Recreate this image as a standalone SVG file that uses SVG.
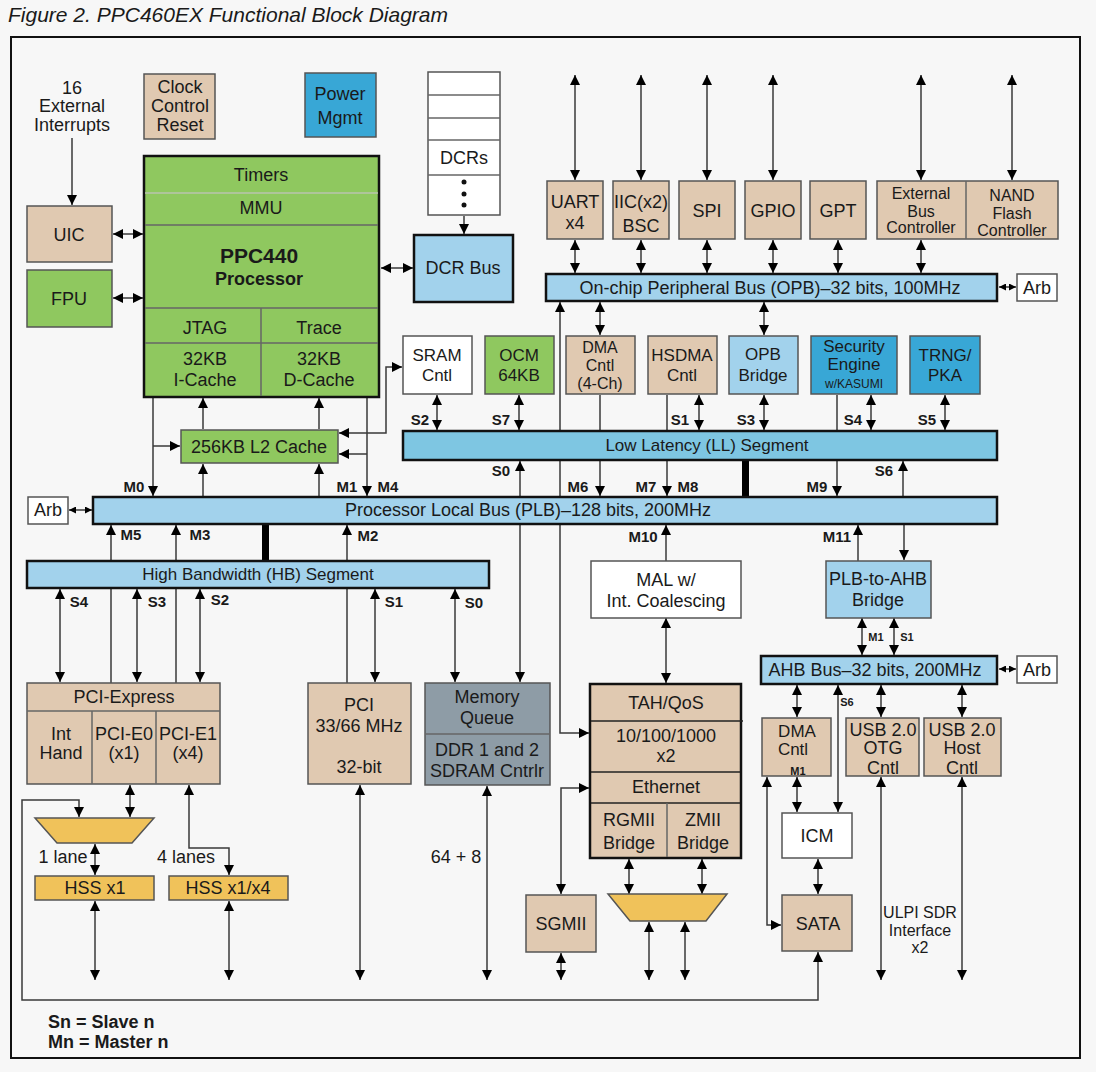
<svg xmlns="http://www.w3.org/2000/svg" width="1096" height="1072" viewBox="0 0 1096 1072">
<style>
text{font-family:"Liberation Sans",Arial,sans-serif;fill:#1a1a1a;text-anchor:middle;font-size:18px}
.l{text-anchor:start}
.b{font-weight:bold;font-size:15px}
.sm{font-weight:bold;font-size:11px}
.m{font-size:17px}
.bt{font-size:18px}
.bx{stroke:#555;stroke-width:1.5}
.tan{fill:#e0c9b1}
.grn{fill:#8fc85f}
.lb{fill:#a2d2ec}
.ll{fill:#7ec6e2}
.db{fill:#38a7d6}
.wh{fill:#fff}
.gold{fill:#f0c25a}
.gry{fill:#8e9ca6}
.bus{stroke:#111;stroke-width:2.5}
.dv{stroke:#666;stroke-width:1.5;fill:none}
.c{stroke:#3a3a3a;stroke-width:1.5;fill:none}
.e{marker-end:url(#a)}
.d{marker-start:url(#a);marker-end:url(#a)}
.ds{marker-start:url(#s);marker-end:url(#s)}
</style>
<defs>
<marker id="a" viewBox="0 0 10 10" refX="10" refY="5" markerWidth="10" markerHeight="10" orient="auto-start-reverse" markerUnits="userSpaceOnUse"><path d="M0,0 L10,5 L0,10 Z" fill="#000"/></marker>
<marker id="s" viewBox="0 0 10 10" refX="10" refY="5" markerWidth="7" markerHeight="7" orient="auto-start-reverse" markerUnits="userSpaceOnUse"><path d="M0,0 L10,5 L0,10 Z" fill="#000"/></marker>
</defs>
<rect x="0" y="0" width="1096" height="1072" fill="#f7f7f7"/>
<text x="8" y="22" class="l" style="font-style:italic;font-size:21px">Figure 2. PPC460EX Functional Block Diagram</text>
<rect x="11" y="37" width="1069" height="1021" fill="none" stroke="#111" stroke-width="2"/>

<g id="connectors">
<line class="c e" x1="72" y1="138" x2="72" y2="205"/>
<line class="c d" x1="113" y1="234" x2="143" y2="234"/>
<line class="c d" x1="113" y1="298" x2="143" y2="298"/>
<line class="c d" x1="381" y1="268" x2="413" y2="268"/>
<line class="c e" x1="464" y1="216" x2="464" y2="234"/>
<line class="c d" x1="575" y1="75" x2="575" y2="180"/>
<line class="c d" x1="641" y1="75" x2="641" y2="180"/>
<line class="c d" x1="707" y1="75" x2="707" y2="180"/>
<line class="c d" x1="773" y1="75" x2="773" y2="180"/>
<line class="c d" x1="921" y1="75" x2="921" y2="180"/>
<line class="c d" x1="1012" y1="75" x2="1012" y2="180"/>
<line class="c d" x1="575" y1="240" x2="575" y2="273"/>
<line class="c d" x1="641" y1="240" x2="641" y2="273"/>
<line class="c d" x1="707" y1="240" x2="707" y2="273"/>
<line class="c d" x1="773" y1="240" x2="773" y2="273"/>
<line class="c d" x1="838" y1="240" x2="838" y2="273"/>
<line class="c d" x1="921" y1="240" x2="921" y2="273"/>
<line class="c ds" x1="999" y1="287" x2="1016" y2="287"/>
<line class="c d" x1="600" y1="302" x2="600" y2="335"/>
<line class="c d" x1="764" y1="302" x2="764" y2="335"/>
<path class="c d" d="M560,302 V733 H589"/>
<line class="c d" x1="437" y1="395" x2="437" y2="430"/>
<line class="c d" x1="519" y1="395" x2="519" y2="430"/>
<line class="c d" x1="699" y1="395" x2="699" y2="430"/>
<line class="c d" x1="764" y1="395" x2="764" y2="430"/>
<line class="c d" x1="871" y1="395" x2="871" y2="430"/>
<line class="c d" x1="945" y1="395" x2="945" y2="430"/>
<line class="c e" x1="600" y1="395" x2="600" y2="496"/>
<line class="c e" x1="667" y1="395" x2="667" y2="496"/>
<line class="c e" x1="837" y1="395" x2="837" y2="496"/>
<line class="c e" x1="903" y1="497" x2="903" y2="461"/>
<line class="c d" x1="520" y1="682" x2="520" y2="461"/>
<line class="c e" x1="153" y1="398" x2="153" y2="496"/>
<line class="c e" x1="153" y1="446" x2="180" y2="446"/>
<line class="c e" x1="203" y1="429" x2="203" y2="398"/>
<line class="c e" x1="319" y1="429" x2="319" y2="398"/>
<line class="c e" x1="203" y1="497" x2="203" y2="464"/>
<line class="c e" x1="319" y1="497" x2="319" y2="464"/>
<line class="c e" x1="367" y1="398" x2="367" y2="496"/>
<line class="c e" x1="367" y1="454" x2="339" y2="454"/>
<path class="c d" d="M339,433 H386 V367 H402"/>
<line class="c ds" x1="69" y1="510" x2="92" y2="510"/>
<line class="c e" x1="111" y1="683" x2="111" y2="525"/>
<line class="c e" x1="176" y1="683" x2="176" y2="525"/>
<line class="c e" x1="347" y1="683" x2="347" y2="525"/>
<line class="c d" x1="60" y1="589" x2="60" y2="682"/>
<line class="c d" x1="137" y1="589" x2="137" y2="682"/>
<line class="c d" x1="200" y1="589" x2="200" y2="682"/>
<line class="c d" x1="375" y1="589" x2="375" y2="682"/>
<line class="c d" x1="455" y1="589" x2="455" y2="682"/>
<line class="c e" x1="666" y1="561" x2="666" y2="525"/>
<line class="c d" x1="666" y1="618" x2="666" y2="683"/>
<line class="c e" x1="858" y1="561" x2="858" y2="525"/>
<line class="c e" x1="904" y1="525" x2="904" y2="560"/>
<line class="c d" x1="862" y1="618" x2="862" y2="655"/>
<line class="c d" x1="894" y1="618" x2="894" y2="655"/>
<line class="c ds" x1="999" y1="669" x2="1016" y2="669"/>
<line class="c d" x1="797" y1="685" x2="797" y2="717"/>
<line class="c d" x1="838" y1="685" x2="838" y2="812"/>
<line class="c d" x1="881" y1="685" x2="881" y2="717"/>
<line class="c d" x1="962" y1="685" x2="962" y2="717"/>
<line class="c d" x1="797" y1="777" x2="797" y2="812"/>
<line class="c d" x1="818" y1="859" x2="818" y2="894"/>
<path class="c d" d="M767,777 V925 H781"/>
<line class="c d" x1="881" y1="777" x2="881" y2="980"/>
<line class="c d" x1="962" y1="777" x2="962" y2="980"/>
<path class="c d" d="M818,952 V1000 H22 V800 H79 V817"/>
<line class="c d" x1="130" y1="785" x2="130" y2="817"/>
<line class="c d" x1="95" y1="844" x2="95" y2="875"/>
<path class="c d" d="M189,785 V848 H229 V875"/>
<line class="c d" x1="95" y1="901" x2="95" y2="980"/>
<line class="c d" x1="229" y1="901" x2="229" y2="980"/>
<line class="c d" x1="360" y1="785" x2="360" y2="980"/>
<line class="c d" x1="487" y1="786" x2="487" y2="980"/>
<path class="c d" d="M589,788 H561 V894"/>
<line class="c d" x1="561" y1="953" x2="561" y2="980"/>
<line class="c d" x1="629" y1="859" x2="629" y2="894"/>
<line class="c d" x1="702" y1="859" x2="702" y2="894"/>
<line class="c d" x1="649" y1="922" x2="649" y2="980"/>
<line class="c d" x1="685" y1="922" x2="685" y2="980"/>
<rect x="262" y="524" width="7" height="37" fill="#000"/>
<rect x="742" y="460" width="7" height="38" fill="#000"/>
</g>

<g id="labels">
<text class="b" x="134" y="492">M0</text>
<text class="b" x="347" y="492">M1</text>
<text class="b" x="388" y="492">M4</text>
<text class="b" x="420" y="425">S2</text>
<text class="b" x="501" y="425">S7</text>
<text class="b" x="680" y="425">S1</text>
<text class="b" x="746" y="425">S3</text>
<text class="b" x="853" y="425">S4</text>
<text class="b" x="927" y="425">S5</text>
<text class="b" x="501" y="476">S0</text>
<text class="b" x="884" y="476">S6</text>
<text class="b" x="578" y="492">M6</text>
<text class="b" x="646" y="492">M7</text>
<text class="b" x="688" y="492">M8</text>
<text class="b" x="817" y="492">M9</text>
<text class="b" x="131" y="540">M5</text>
<text class="b" x="200" y="540">M3</text>
<text class="b" x="368" y="541">M2</text>
<text class="b" x="643" y="542">M10</text>
<text class="b" x="837" y="542">M11</text>
<text class="b" x="79" y="607">S4</text>
<text class="b" x="157" y="607">S3</text>
<text class="b" x="220" y="605">S2</text>
<text class="b" x="394" y="607">S1</text>
<text class="b" x="474" y="608">S0</text>
<text class="sm" x="876" y="641">M1</text>
<text class="sm" x="907" y="641">S1</text>
<text class="sm" x="847" y="706">S6</text>
<text x="72" y="94">16</text>
<text x="72" y="112">External</text>
<text x="72" y="131">Interrupts</text>
<text x="63" y="863">1 lane</text>
<text x="186" y="863">4 lanes</text>
<text x="456" y="863">64 + 8</text>
<text x="920" y="918" style="font-size:16px">ULPI SDR</text>
<text x="920" y="936" style="font-size:16px">Interface</text>
<text x="920" y="953" style="font-size:16px">x2</text>
<text class="l" x="48" y="1028" style="font-weight:bold;font-size:18px">Sn = Slave n</text>
<text class="l" x="48" y="1048" style="font-weight:bold;font-size:18px">Mn = Master n</text>
</g>

<g id="clock"><rect class="bx tan" x="144" y="74" width="71" height="65"/><text x="180" y="93">Clock</text><text x="180" y="112">Control</text><text x="180" y="131">Reset</text></g>
<g id="power"><rect class="bx db" x="305" y="73" width="71" height="64"/><text x="340" y="100">Power</text><text x="340" y="124">Mgmt</text></g>
<g id="uic"><rect class="bx tan" x="27" y="206" width="85" height="56"/><text x="69" y="241">UIC</text></g>
<g id="fpu"><rect class="bx grn" x="27" y="270" width="85" height="57"/><text x="69" y="305">FPU</text></g>
<g id="ppc440">
<rect class="grn" x="144" y="156" width="235" height="241" stroke="#111" stroke-width="2.5"/>
<line x1="145" y1="193" x2="378" y2="193" stroke="#b8c4ae" stroke-width="1.5"/>
<line class="dv" x1="145" y1="225" x2="378" y2="225"/>
<line class="dv" x1="145" y1="308" x2="378" y2="308"/>
<line class="dv" x1="145" y1="343" x2="378" y2="343"/>
<line class="dv" x1="261" y1="308" x2="261" y2="396"/>
<text x="261" y="181">Timers</text>
<text x="261" y="214">MMU</text>
<text x="259" y="263" style="font-weight:bold;font-size:21px">PPC440</text>
<text x="259" y="285" style="font-weight:bold">Processor</text>
<text x="205" y="334">JTAG</text>
<text x="319" y="334">Trace</text>
<text x="205" y="365">32KB</text>
<text x="205" y="386">I-Cache</text>
<text x="319" y="365">32KB</text>
<text x="319" y="386">D-Cache</text>
</g>
<g id="dcrs">
<rect x="428" y="72" width="72" height="143" fill="#fff" stroke="#555" stroke-width="1.5"/>
<line class="dv" x1="428" y1="95" x2="500" y2="95"/>
<line class="dv" x1="428" y1="118" x2="500" y2="118"/>
<line class="dv" x1="428" y1="140" x2="500" y2="140"/>
<line class="dv" x1="428" y1="175" x2="500" y2="175"/>
<text x="464" y="164">DCRs</text>
<circle cx="464" cy="182" r="2.5" fill="#111"/><circle cx="464" cy="194" r="2.5" fill="#111"/><circle cx="464" cy="205" r="2.5" fill="#111"/>
</g>
<g id="dcrbus"><rect class="lb" x="414" y="235" width="99" height="67" stroke="#111" stroke-width="2.5"/><text x="463" y="274">DCR Bus</text></g>
<g id="uart"><rect class="bx tan" x="547" y="181" width="56" height="58"/><text x="575" y="208">UART</text><text x="575" y="229">x4</text></g>
<g id="iic"><rect class="bx tan" x="613" y="181" width="56" height="58"/><text x="641" y="208">IIC(x2)</text><text x="641" y="232">BSC</text></g>
<g id="spi"><rect class="bx tan" x="679" y="181" width="56" height="58"/><text x="707" y="217">SPI</text></g>
<g id="gpio"><rect class="bx tan" x="745" y="181" width="56" height="58"/><text x="773" y="217">GPIO</text></g>
<g id="gpt"><rect class="bx tan" x="810" y="181" width="56" height="58"/><text x="838" y="217">GPT</text></g>
<g id="ebc">
<rect class="bx tan" x="877" y="181" width="181" height="58"/>
<line class="dv" x1="966" y1="181" x2="966" y2="239"/>
<text x="921" y="199" style="font-size:16px">External</text><text x="921" y="217" style="font-size:16px">Bus</text><text x="921" y="233" style="font-size:16px">Controller</text>
<text x="1012" y="201" style="font-size:16px">NAND</text><text x="1012" y="219" style="font-size:16px">Flash</text><text x="1012" y="236" style="font-size:16px">Controller</text>
</g>
<g id="opb"><rect class="lb bus" x="546" y="274" width="451" height="27"/><text class="bt" x="770" y="294">On-chip Peripheral Bus (OPB)–32 bits, 100MHz</text></g>
<g id="opbarb"><rect class="bx wh" x="1017" y="274" width="40" height="27"/><text x="1037" y="294">Arb</text></g>
<g id="sram"><rect class="bx wh" x="403" y="336" width="69" height="58"/><text class="m" x="437" y="361">SRAM</text><text class="m" x="437" y="381">Cntl</text></g>
<g id="ocm"><rect class="bx grn" x="485" y="336" width="69" height="58"/><text class="m" x="519" y="361">OCM</text><text class="m" x="519" y="381">64KB</text></g>
<g id="dma"><rect class="bx tan" x="566" y="336" width="69" height="58"/><text x="600" y="353" style="font-size:16px">DMA</text><text x="600" y="371" style="font-size:16px">Cntl</text><text x="600" y="389" style="font-size:16px">(4-Ch)</text></g>
<g id="hsdma"><rect class="bx tan" x="648" y="336" width="69" height="58"/><text class="m" x="682" y="361">HSDMA</text><text class="m" x="682" y="381">Cntl</text></g>
<g id="opbbridge"><rect class="bx lb" x="729" y="336" width="69" height="58"/><text class="m" x="763" y="360">OPB</text><text class="m" x="763" y="381">Bridge</text></g>
<g id="security"><rect class="bx db" x="811" y="336" width="86" height="58"/><text class="m" x="854" y="352">Security</text><text class="m" x="854" y="370">Engine</text><text x="854" y="388" style="font-size:12px">w/KASUMI</text></g>
<g id="trng"><rect class="bx db" x="910" y="336" width="70" height="58"/><text class="m" x="945" y="361">TRNG/</text><text class="m" x="945" y="381">PKA</text></g>
<g id="ll"><rect class="ll bus" x="403" y="431" width="594" height="29"/><text class="m" x="707" y="451">Low Latency (LL) Segment</text></g>
<g id="l2"><rect class="bx grn" x="181" y="430" width="157" height="33"/><text x="259" y="453">256KB L2 Cache</text></g>
<g id="plb"><rect class="lb bus" x="93" y="497" width="904" height="27"/><text class="bt" x="528" y="516">Processor Local Bus (PLB)–128 bits, 200MHz</text></g>
<g id="plbarb"><rect class="bx wh" x="28" y="497" width="40" height="27"/><text x="48" y="516">Arb</text></g>
<g id="hb"><rect class="lb bus" x="27" y="561" width="462" height="27"/><text class="m" x="258" y="580">High Bandwidth (HB) Segment</text></g>
<g id="mal"><rect class="bx wh" x="591" y="561" width="150" height="57"/><text x="666" y="586">MAL w/</text><text x="666" y="607">Int. Coalescing</text></g>
<g id="plb2ahb"><rect class="bx lb" x="826" y="561" width="105" height="57"/><text x="878" y="585">PLB-to-AHB</text><text x="878" y="606">Bridge</text></g>
<g id="ahb"><rect class="lb bus" x="761" y="656" width="236" height="28"/><text x="875" y="676">AHB Bus–32 bits, 200MHz</text></g>
<g id="ahbarb"><rect class="bx wh" x="1017" y="656" width="40" height="27"/><text x="1037" y="676">Arb</text></g>
<g id="pcie">
<rect class="bx tan" x="27" y="683" width="193" height="101"/>
<line class="dv" x1="27" y1="711" x2="220" y2="711"/>
<line class="dv" x1="92" y1="711" x2="92" y2="784"/>
<line class="dv" x1="156" y1="711" x2="156" y2="784"/>
<text x="124" y="703">PCI-Express</text>
<text x="61" y="740">Int</text><text x="61" y="759">Hand</text>
<text x="124" y="740">PCI-E0</text><text x="124" y="759">(x1)</text>
<text x="188" y="740">PCI-E1</text><text x="188" y="759">(x4)</text>
</g>
<g id="pci"><rect class="bx tan" x="308" y="683" width="103" height="101"/><text x="359" y="711">PCI</text><text x="359" y="732">33/66 MHz</text><text x="359" y="773">32-bit</text></g>
<g id="memq">
<rect class="bx gry" x="425" y="683" width="125" height="102"/>
<line class="dv" x1="425" y1="734" x2="550" y2="734"/>
<text x="487" y="703">Memory</text><text x="487" y="724">Queue</text>
<text x="487" y="756">DDR 1 and 2</text><text x="487" y="777">SDRAM Cntrlr</text>
</g>
<g id="ethernet">
<rect class="tan" x="590" y="684" width="151" height="174" stroke="#111" stroke-width="2.5"/>
<line x1="591" y1="721" x2="743" y2="721" stroke="#222" stroke-width="1.5"/>
<line x1="591" y1="772" x2="740" y2="772" stroke="#222" stroke-width="1.5"/>
<line x1="591" y1="803" x2="740" y2="803" stroke="#222" stroke-width="1.5"/>
<line class="dv" x1="667" y1="803" x2="667" y2="857"/>
<text x="666" y="709">TAH/QoS</text>
<text x="666" y="742">10/100/1000</text><text x="666" y="762">x2</text>
<text x="666" y="793">Ethernet</text>
<text x="629" y="826">RGMII</text><text x="629" y="849">Bridge</text>
<text x="703" y="826">ZMII</text><text x="703" y="849">Bridge</text>
</g>
<g id="mux1"><polygon class="bx gold" points="35,818 154,818 132,843 57,843"/></g>
<g id="hssx1"><rect class="bx gold" x="35" y="876" width="119" height="24"/><text x="95" y="894">HSS x1</text></g>
<g id="hssx4"><rect class="bx gold" x="169" y="876" width="119" height="24"/><text x="228" y="894">HSS x1/x4</text></g>
<g id="sgmii"><rect class="bx tan" x="526" y="895" width="70" height="57"/><text x="561" y="930">SGMII</text></g>
<g id="mux2"><polygon class="bx gold" points="608,894 727,894 706,921 630,921"/></g>
<g id="ahbdma"><rect class="bx tan" x="762" y="718" width="69" height="58"/><text x="797" y="737" style="font-size:17px">DMA</text><text x="793" y="755" style="font-size:17px">Cntl</text><text class="sm" x="798" y="775">M1</text></g>
<g id="usbotg"><rect class="bx tan" x="846" y="718" width="73" height="58"/><text x="883" y="736">USB 2.0</text><text x="883" y="754">OTG</text><text x="883" y="774">Cntl</text></g>
<g id="usbhost"><rect class="bx tan" x="924" y="718" width="77" height="58"/><text x="962" y="736">USB 2.0</text><text x="962" y="754">Host</text><text x="962" y="774">Cntl</text></g>
<g id="icm"><rect class="bx wh" x="782" y="813" width="70" height="45"/><text x="817" y="842">ICM</text></g>
<g id="sata"><rect class="bx tan" x="782" y="895" width="70" height="56"/><text x="818" y="930">SATA</text></g>
</svg>
